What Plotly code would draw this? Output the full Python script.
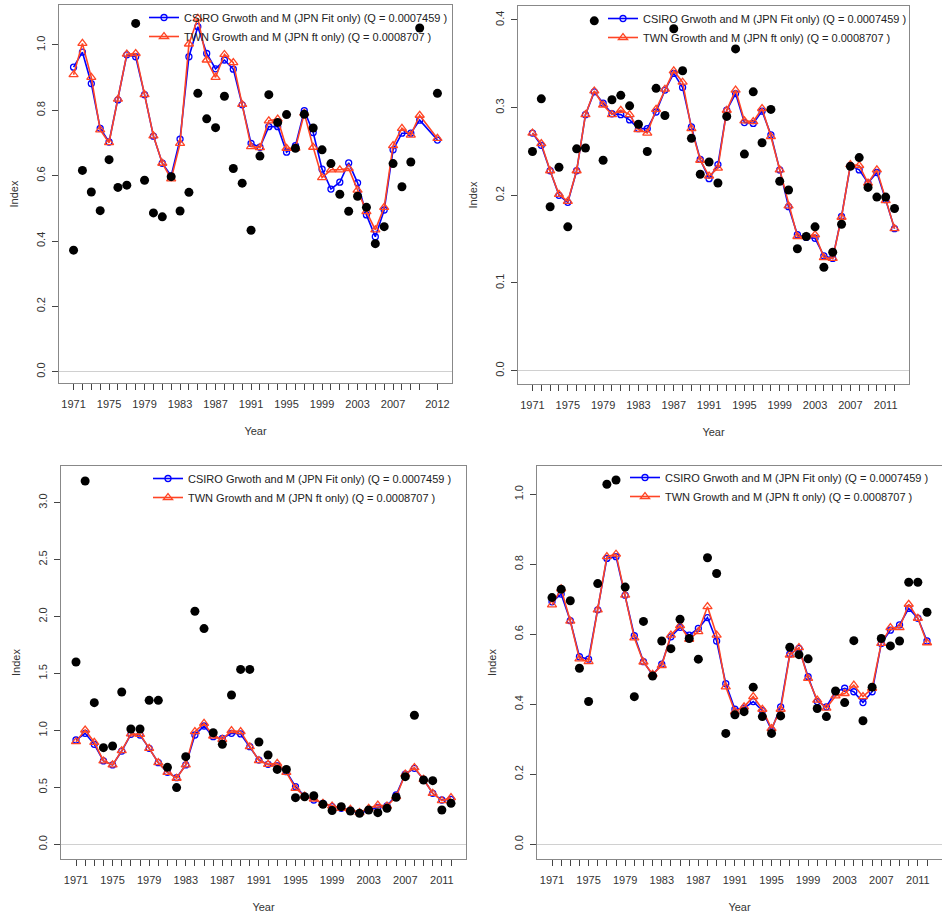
import plotly.graph_objects as go

# ---------------- data ----------------
years_a = list(range(1971, 2011)) + [2012]
years_full = list(range(1971, 2013))

labels_a = [1971, 1975, 1979, 1983, 1987, 1991, 1995, 1999, 2003, 2007, 2012]
labels_std = [1971, 1975, 1979, 1983, 1987, 1991, 1995, 1999, 2003, 2007, 2011]

obs_a = [0.372, 0.616, 0.550, 0.493, 0.649, 0.564, 0.571, 1.066, 0.586, 0.486,
         0.474, 0.597, 0.492, 0.549, 0.852, 0.774, 0.747, 0.843, 0.622, 0.577,
         0.433, 0.660, 0.848, 0.763, 0.787, 0.684, 0.788, 0.746, 0.679, 0.637,
         0.543, 0.491, 0.537, 0.503, 0.392, 0.444, 0.637, 0.566, 0.642, 1.052,
         0.852]
csiro_a = [0.932, 0.978, 0.882, 0.745, 0.703, 0.832, 0.970, 0.964, 0.848, 0.721,
           0.638, 0.599, 0.712, 0.964, 1.056, 0.974, 0.927, 0.954, 0.926, 0.817,
           0.699, 0.687, 0.750, 0.750, 0.672, 0.692, 0.799, 0.732, 0.620, 0.559,
           0.580, 0.639, 0.578, 0.480, 0.413, 0.495, 0.679, 0.730, 0.730, 0.770,
           0.709]
twn_a = [0.909, 1.005, 0.901, 0.740, 0.701, 0.834, 0.972, 0.974, 0.848, 0.722,
         0.638, 0.590, 0.699, 1.003, 1.082, 0.954, 0.901, 0.971, 0.946, 0.818,
         0.689, 0.686, 0.768, 0.773, 0.684, 0.684, 0.791, 0.687, 0.594, 0.618,
         0.618, 0.622, 0.556, 0.490, 0.434, 0.503, 0.692, 0.745, 0.724, 0.785,
         0.714]

obs_b = [0.250, 0.310, 0.187, 0.232, 0.164, 0.253, 0.254, 0.399, 0.240, 0.309,
         0.314, 0.302, 0.281, 0.250, 0.322, 0.291, 0.390, 0.342, 0.265, 0.224,
         0.238, 0.214, 0.290, 0.367, 0.247, 0.318, 0.260, 0.298, 0.216, 0.206,
         0.139, 0.153, 0.164, 0.118, 0.135, 0.167, 0.233, 0.243, 0.209, 0.198,
         0.198, 0.185]
csiro_b = [0.271, 0.257, 0.228, 0.200, 0.192, 0.228, 0.292, 0.318, 0.305, 0.293,
           0.292, 0.286, 0.276, 0.276, 0.295, 0.320, 0.339, 0.323, 0.278, 0.241,
           0.219, 0.235, 0.297, 0.316, 0.283, 0.282, 0.296, 0.269, 0.229, 0.187,
           0.155, 0.152, 0.151, 0.131, 0.128, 0.176, 0.234, 0.229, 0.214, 0.226,
           0.195, 0.162]
twn_b = [0.271, 0.259, 0.228, 0.201, 0.193, 0.228, 0.292, 0.319, 0.303, 0.292,
         0.297, 0.292, 0.275, 0.271, 0.298, 0.321, 0.342, 0.329, 0.276, 0.240,
         0.222, 0.231, 0.297, 0.320, 0.285, 0.284, 0.299, 0.267, 0.229, 0.188,
         0.153, 0.153, 0.155, 0.129, 0.128, 0.175, 0.235, 0.234, 0.214, 0.229,
         0.194, 0.162]

obs_c = [1.601, 3.190, 1.244, 0.849, 0.863, 1.337, 1.013, 1.013, 1.264, 1.264,
         0.676, 0.498, 0.770, 2.046, 1.894, 0.980, 0.878, 1.311, 1.536, 1.536,
         0.898, 0.784, 0.658, 0.658, 0.410, 0.418, 0.427, 0.351, 0.296, 0.331,
         0.293, 0.272, 0.301, 0.278, 0.316, 0.413, 0.594, 1.133, 0.565, 0.559,
         0.301, 0.360]
csiro_c = [0.916, 0.975, 0.878, 0.732, 0.697, 0.819, 0.966, 0.960, 0.843, 0.717,
           0.632, 0.585, 0.697, 0.960, 1.039, 0.945, 0.931, 0.975, 0.969, 0.857,
           0.740, 0.702, 0.691, 0.638, 0.506, 0.424, 0.389, 0.360, 0.331, 0.316,
           0.301, 0.272, 0.301, 0.325, 0.337, 0.433, 0.617, 0.667, 0.571, 0.448,
           0.389, 0.395]
twn_c = [0.901, 1.004, 0.896, 0.732, 0.697, 0.822, 0.969, 0.966, 0.843, 0.717,
         0.632, 0.580, 0.697, 0.989, 1.062, 0.951, 0.922, 0.998, 0.989, 0.857,
         0.735, 0.702, 0.711, 0.632, 0.492, 0.424, 0.398, 0.360, 0.337, 0.316,
         0.307, 0.278, 0.316, 0.345, 0.337, 0.418, 0.617, 0.673, 0.571, 0.448,
         0.383, 0.410]

obs_d = [0.705, 0.729, 0.696, 0.503, 0.408, 0.745, 1.029, 1.041, 0.735, 0.422,
         0.637, 0.481, 0.581, 0.559, 0.643, 0.588, 0.529, 0.819, 0.774, 0.317,
         0.370, 0.379, 0.449, 0.365, 0.317, 0.367, 0.563, 0.542, 0.530, 0.388,
         0.365, 0.438, 0.405, 0.582, 0.353, 0.449, 0.588, 0.567, 0.581, 0.749,
         0.749, 0.663]
csiro_d = [0.693, 0.715, 0.639, 0.536, 0.529, 0.670, 0.817, 0.822, 0.712, 0.596,
           0.522, 0.484, 0.515, 0.593, 0.620, 0.598, 0.617, 0.648, 0.581, 0.459,
           0.386, 0.389, 0.408, 0.382, 0.327, 0.393, 0.544, 0.560, 0.479, 0.408,
           0.393, 0.436, 0.446, 0.436, 0.405, 0.436, 0.574, 0.612, 0.627, 0.674,
           0.646, 0.581]
twn_d = [0.684, 0.730, 0.638, 0.530, 0.522, 0.670, 0.822, 0.829, 0.712, 0.590,
         0.521, 0.486, 0.511, 0.598, 0.625, 0.586, 0.608, 0.679, 0.598, 0.450,
         0.379, 0.393, 0.422, 0.386, 0.331, 0.386, 0.541, 0.562, 0.474, 0.412,
         0.389, 0.424, 0.431, 0.455, 0.422, 0.446, 0.574, 0.619, 0.619, 0.686,
         0.646, 0.576]

name_csiro = "CSIRO Grwoth and M (JPN Fit only) (Q = 0.0007459 )"
name_twn = "TWN Growth and M (JPN ft only) (Q = 0.0008707 )"

yticks_a = [0.0, 0.2, 0.4, 0.6, 0.8, 1.0]
yticks_b = [0.0, 0.1, 0.2, 0.3, 0.4]
yticks_c = [0.0, 0.5, 1.0, 1.5, 2.0, 2.5, 3.0]
yticks_d = [0.0, 0.2, 0.4, 0.6, 0.8, 1.0]

# ---------------- layout geometry ----------------
W, H = 942, 915
BLUE = "#0000FF"
RED = "#FF4525"
FONT = "Liberation Sans, Arial, sans-serif"
FS = 11

panels = [
    dict(years=years_a, obs=obs_a, csiro=csiro_a, twn=twn_a, labs=labels_a,
         yt=yticks_a, yr=[-0.0346, 1.1224], box=(59, 452, 5, 383), leg=(144, 3)),
    dict(years=years_full, obs=obs_b, csiro=csiro_b, twn=twn_b, labs=labels_std,
         yt=yticks_b, yr=[-0.0152, 0.4159], box=(518, 909, 6, 384), leg=(603, 4)),
    dict(years=years_full, obs=obs_c, csiro=csiro_c, twn=twn_c, labs=labels_std,
         yt=yticks_c, yr=[-0.1288, 3.3217], box=(61, 466, 466, 859), leg=(148, 464)),
    dict(years=years_full, obs=obs_d, csiro=csiro_d, twn=twn_d, labs=labels_std,
         yt=yticks_d, yr=[-0.0419, 1.081], box=(537, 943, 466, 859), leg=(625, 463)),
]

fig = go.Figure()
layout = dict(
    width=W, height=H, margin=dict(l=0, r=0, t=0, b=0),
    paper_bgcolor="white", plot_bgcolor="white",
    font=dict(family=FONT, size=FS, color="#333333"),
)

for i, p in enumerate(panels):
    k = "" if i == 0 else str(i + 1)
    xa, ya = "x" + k, "y" + k
    leg = "legend" + k
    fig.add_trace(go.Scatter(
        x=p["years"], y=p["csiro"], mode="lines+markers", name=name_csiro,
        xaxis=xa, yaxis=ya, legend=leg,
        line=dict(color=BLUE, width=1.6),
        marker=dict(symbol="circle-open", size=6, color=BLUE, line=dict(width=1.3))))
    fig.add_trace(go.Scatter(
        x=p["years"], y=p["twn"], mode="lines+markers", name=name_twn,
        xaxis=xa, yaxis=ya, legend=leg,
        line=dict(color=RED, width=1.6),
        marker=dict(symbol="triangle-up-open", size=8, color=RED, line=dict(width=1.3))))
    fig.add_trace(go.Scatter(
        x=p["years"], y=p["obs"], mode="markers", showlegend=False,
        xaxis=xa, yaxis=ya, legend=leg,
        marker=dict(symbol="circle", size=9, color="black")))

    l, r, t, b = p["box"]
    layout["xaxis" + k] = dict(
        domain=[l / W, min(r / W, 1.0)], anchor=ya,
        range=[1969.36, 2013.64],
        tickmode="array", tickvals=p["years"],
        ticktext=[str(y) if y in p["labs"] else "" for y in p["years"]],
        ticks="outside", ticklen=6, tickcolor="#444444", tickwidth=1,
        tickangle=0, ticklabelstandoff=5,
        showline=True, mirror=True, linecolor="#888888", linewidth=1,
        showgrid=False, zeroline=False,
        tickfont=dict(size=FS, color="#333333"),
        title=dict(text="Year", standoff=18, font=dict(size=FS, color="#333333")),
    )
    layout["yaxis" + k] = dict(
        domain=[1 - b / H, 1 - t / H], anchor=xa,
        range=p["yr"],
        tickmode="array", tickvals=p["yt"],
        ticktext=[f"{v:.1f}" for v in p["yt"]],
        tickangle=-90, ticklabelstandoff=3,
        ticks="outside", ticklen=6, tickcolor="#444444", tickwidth=1,
        showline=True, mirror=True, linecolor="#888888", linewidth=1,
        showgrid=False, zeroline=True, zerolinecolor="#d0d0d0", zerolinewidth=1,
        tickfont=dict(size=FS, color="#333333"),
        title=dict(text="Index", standoff=13, font=dict(size=FS, color="#333333")),
    )
    lx, ly = p["leg"]
    layout[leg] = dict(
        x=lx / W, y=1 - ly / H, xanchor="left", yanchor="top",
        bgcolor="rgba(0,0,0,0)", borderwidth=0,
        font=dict(size=FS, color="#222222", family=FONT),
        itemwidth=30, tracegroupgap=0,
    )

fig.update_layout(**layout)
fig.write_html("out.html")
